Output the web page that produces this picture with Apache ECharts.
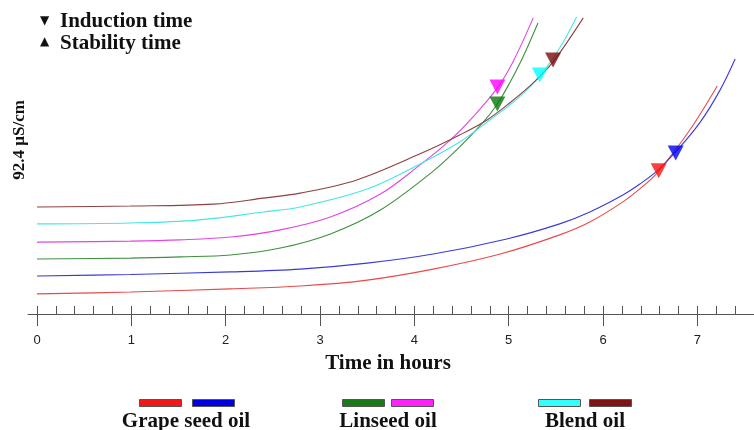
<!DOCTYPE html>
<html>
<head>
<meta charset="utf-8">
<script src="https://cdn.jsdelivr.net/npm/echarts@6/dist/echarts.min.js"></script>
<style>
	html, body { margin: 0; padding: 0; background: #fff; }
	#chart { width: 754px; height: 430px; }
</style>
</head>
<body>
<div id="chart"></div>
<script>
// time in hours / conductivity (% of the 92.4 µS/cm scale)
var grape1T = [0, 0.99, 2.05, 2.79, 3.5, 4.2, 4.91, 5.54, 5.86, 6.21, 6.44, 6.58, 6.92, 7.21];
var grape1V = [6.4, 7.0, 8.0, 8.9, 10.8, 14.3, 19.1, 25.2, 29.3, 35.7, 41.1, 45.2, 58.6, 72.6];
var grape2T = [0, 0.99, 2.05, 2.79, 3.5, 4.2, 4.98, 5.54, 5.86, 6.21, 6.39, 6.57, 6.77, 7.03, 7.24, 7.4];
var grape2V = [12.1, 12.6, 13.4, 14.3, 16.2, 19.1, 23.9, 28.7, 32.5, 37.9, 41.4, 45.5, 51.6, 61.1, 71.3, 81.2];
var lin1T = [0, 0.99, 1.52, 2.05, 2.58, 3.11, 3.64, 4.2, 4.48, 4.73, 4.88, 5.01, 5.15, 5.31];
var lin1V = [17.5, 17.8, 18.2, 18.8, 21.0, 25.5, 33.1, 45.5, 53.2, 61.1, 66.9, 73.6, 81.8, 92.7];
var lin2T = [0, 0.99, 1.52, 2.05, 2.58, 3.11, 3.64, 4.06, 4.38, 4.62, 4.88, 5.05, 5.26];
var lin2V = [22.9, 23.2, 23.6, 24.5, 26.8, 30.9, 38.2, 47.5, 55.4, 62.7, 72.0, 80.6, 94.3];
var blend1T = [0, 0.99, 1.7, 2.4, 2.79, 3.5, 4.06, 4.48, 4.8, 5.09, 5.33, 5.54, 5.72];
var blend1V = [28.7, 29.0, 29.9, 32.5, 34.1, 39.8, 47.8, 54.8, 61.8, 68.5, 75.8, 84.7, 94.6];
var blend2T = [0, 0.99, 1.87, 2.4, 2.79, 3.39, 4.06, 4.48, 4.77, 5.01, 5.26, 5.47, 5.79];
var blend2V = [34.1, 34.4, 35.0, 36.9, 38.5, 42.7, 51.0, 57.0, 61.8, 67.2, 73.6, 80.3, 94.3];

// induction points (▼)
var inductionT = [6.59, 6.77, 4.88, 4.88, 5.33, 5.47];
var inductionV = [45.6, 51.3, 66.9, 72.3, 76.1, 80.9];

var lineColors = ['#e84a4a', '#3a3ad8', '#3f8f3f', '#e245e2', '#45e6e6', '#8f4040'];
var markColors = ['#ff1010', '#0000f0', '#0a780a', '#ff00ff', '#00ffff', '#7a0c0c'];
var swatchColors = ['#f01818', '#0000e0', '#1a7a1a', '#ff22ff', '#33ffff', '#801414'];

var oilNames = ['Grape seed oil', 'Linseed oil', 'Blend oil'];
var xTicks = [0, 1, 2, 3, 4, 5, 6, 7];

function zip(a, b) {
	var out = [];
	for (var i = 0; i < a.length; i++) out.push([a[i], b[i]]);
	return out;
}

var curves = [
	zip(grape1T, grape1V), zip(grape2T, grape2V),
	zip(lin1T, lin1V), zip(lin2T, lin2V),
	zip(blend1T, blend1V), zip(blend2T, blend2V)
];

var myChart = echarts.init(document.getElementById('chart'));
var serif = '"Liberation Serif", "DejaVu Serif", serif';

var series = [];
for (var i = 0; i < curves.length; i++) {
	series.push({
		type: 'line',
		xAxisIndex: 0,
		yAxisIndex: 0,
		data: curves[i],
		smooth: 0.35,
		showSymbol: false,
		silent: true,
		lineStyle: { color: lineColors[i], width: 1.1 },
		z: 2
	});
}
for (var j = 0; j < inductionT.length; j++) {
	series.push({
		type: 'scatter',
		xAxisIndex: 0,
		yAxisIndex: 0,
		data: [[inductionT[j], inductionV[j]]],
		symbol: 'triangle',
		symbolRotate: 180,
		symbolSize: [16, 15],
		itemStyle: { color: markColors[j] },
		z: 4
	});
}
// keeps the lone axis line grid alive
series.push({ type: 'line', xAxisIndex: 2, yAxisIndex: 1, data: [], silent: true });

// bottom legend: two swatches over each oil name
var swX = [139, 192, 342, 391, 538, 589];
var nameX = [186, 388, 585];
var graphics = [
	{ type: 'text', left: 40, top: 15, style: { text: '▼', font: '12px "DejaVu Sans"', fill: '#111' } },
	{ type: 'text', left: 40, top: 36, style: { text: '▲', font: '12px "DejaVu Sans"', fill: '#111' } },
	{ type: 'text', x: 60, y: 22, style: { text: 'Induction time', font: 'bold 21px ' + serif, fill: '#111', verticalAlign: 'middle' } },
	{ type: 'text', x: 60, y: 44, style: { text: 'Stability time', font: 'bold 21px ' + serif, fill: '#111', verticalAlign: 'middle' } },
	{ type: 'text', x: 20, y: 140, rotation: Math.PI / 2, style: { text: '92.4 µS/cm', font: 'bold 17px ' + serif, fill: '#111', align: 'center', verticalAlign: 'middle' } },
	{ type: 'text', x: 388, y: 364, style: { text: 'Time in hours', font: 'bold 21px ' + serif, fill: '#111', align: 'center', verticalAlign: 'middle' } }
];
for (var k = 0; k < swX.length; k++) {
	graphics.push({
		type: 'rect',
		shape: { x: swX[k] + 0.5, y: 399.5, width: 42, height: 7 },
		style: { fill: swatchColors[k], stroke: '#555', lineWidth: 1 }
	});
}
for (var n = 0; n < oilNames.length; n++) {
	graphics.push({
		type: 'text', x: nameX[n], y: 422,
		style: { text: oilNames[n], font: 'bold 21px ' + serif, fill: '#111', align: 'center', verticalAlign: 'middle' }
	});
}

var option = {
	animation: false,
	backgroundColor: '#fff',
	grid: [
		{ left: 37, right: 0, top: 0, bottom: 116 },
		{ left: 28, right: 0, top: 0, bottom: 116 }
	],
	xAxis: [
		{
			// minor ticks every 0.2 h, pointing up
			type: 'value', gridIndex: 0, min: 0, max: 7.6, interval: 0.2,
			axisLine: { show: false },
			axisTick: { show: true, inside: true, length: 8, lineStyle: { color: '#555', width: 1 } },
			axisLabel: { show: false },
			splitLine: { show: false }
		},
		{
			// hour ticks crossing the line, with labels
			type: 'value', gridIndex: 0, min: 0, max: 7.6, interval: 1,
			position: 'bottom',
			axisLine: { show: false },
			axisTick: { show: true, inside: false, length: 12, lineStyle: { color: '#555', width: 1 } },
			axisLabel: {
				show: true, margin: 20, color: '#222', fontSize: 13,
				fontFamily: '"Liberation Sans", Arial, sans-serif',
				showMaxLabel: false,
				formatter: function (v) { return xTicks.indexOf(v) >= 0 ? String(v) : ''; }
			},
			splitLine: { show: false }
		},
		{
			type: 'value', gridIndex: 1, min: 0, max: 1,
			axisLine: { show: true, lineStyle: { color: '#555', width: 1 } },
			axisTick: { show: false },
			axisLabel: { show: false },
			splitLine: { show: false }
		}
	],
	yAxis: [
		{ type: 'value', gridIndex: 0, min: 0, max: 100, show: false },
		{ type: 'value', gridIndex: 1, min: 0, max: 1, show: false }
	],
	graphic: graphics,
	series: series
};
option && myChart.setOption(option);
</script>
</body>
</html>
